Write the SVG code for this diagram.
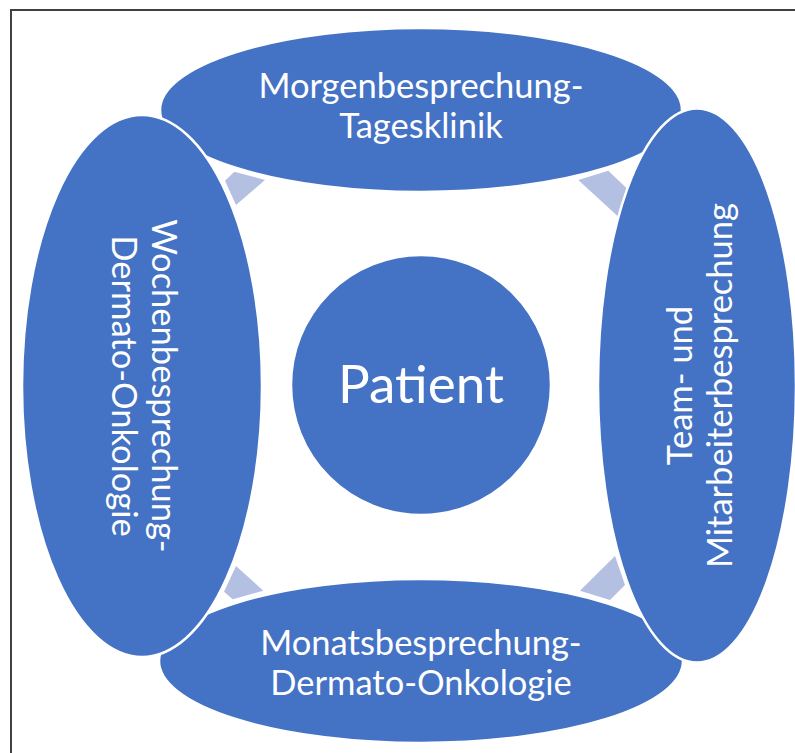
<svg xmlns="http://www.w3.org/2000/svg" width="795" height="753" viewBox="0 0 795 753">
<style>
.node{fill:#4472C4;stroke:#FFFFFF;stroke-width:2.5}
.arrow{fill:#B4C0E1;stroke:none}
.lbl{fill:#FFFFFF;font-family:Lato,"Open Sans","Liberation Sans",sans-serif;font-size:34.5px;text-anchor:middle}
.big{font-size:53px}
.frame{stroke:#404040;stroke-width:2;fill:none}
</style>
<rect width="795" height="753" fill="#FFFFFF"/>
<path class="frame" d="M11,753 V10 H795"/>
<g id="connectors">
<polygon class="arrow" points="225,180.7 234.3,171.7 265,180 236,205"/>
<polygon class="arrow" points="578.3,180 608.3,170.7 626.7,188.3 618.3,216.7"/>
<polygon class="arrow" points="236,566 263.3,590.7 232.7,599.3 224,591.7"/>
<polygon class="arrow" points="615,556 625,585 610,600 580,590.7"/>
</g>
<g id="node-top">
<ellipse class="node" cx="421" cy="110" rx="261" ry="82"/>
<text class="lbl" x="421" y="98">Morgenbesprechung-</text>
<text class="lbl" x="421" y="138">Tagesklinik</text>
</g>
<g id="node-bottom">
<ellipse class="node" cx="421" cy="661" rx="262" ry="82"/>
<text class="lbl" x="421" y="655">Monatsbesprechung-</text>
<text class="lbl" x="421" y="695">Dermato-Onkologie</text>
</g>
<g id="node-left">
<ellipse class="node" cx="142" cy="386" rx="120" ry="271"/>
<g transform="translate(142,386) rotate(90)">
<text class="lbl" x="0" y="-10">Wochenbesprechung-</text>
<text class="lbl" x="0" y="30">Dermato-Onkologie</text>
</g>
</g>
<g id="node-right">
<ellipse class="node" cx="697" cy="385.5" rx="99" ry="277"/>
<g transform="translate(700,385.5) rotate(-90)">
<text class="lbl" x="0" y="-8">Team- und</text>
<text class="lbl" x="0" y="32">Mitarbeiterbesprechung</text>
</g>
</g>
<g id="node-center">
<circle class="node" cx="421" cy="385" r="130"/>
<text class="lbl big" x="421" y="403">Patient</text>
</g>
</svg>
